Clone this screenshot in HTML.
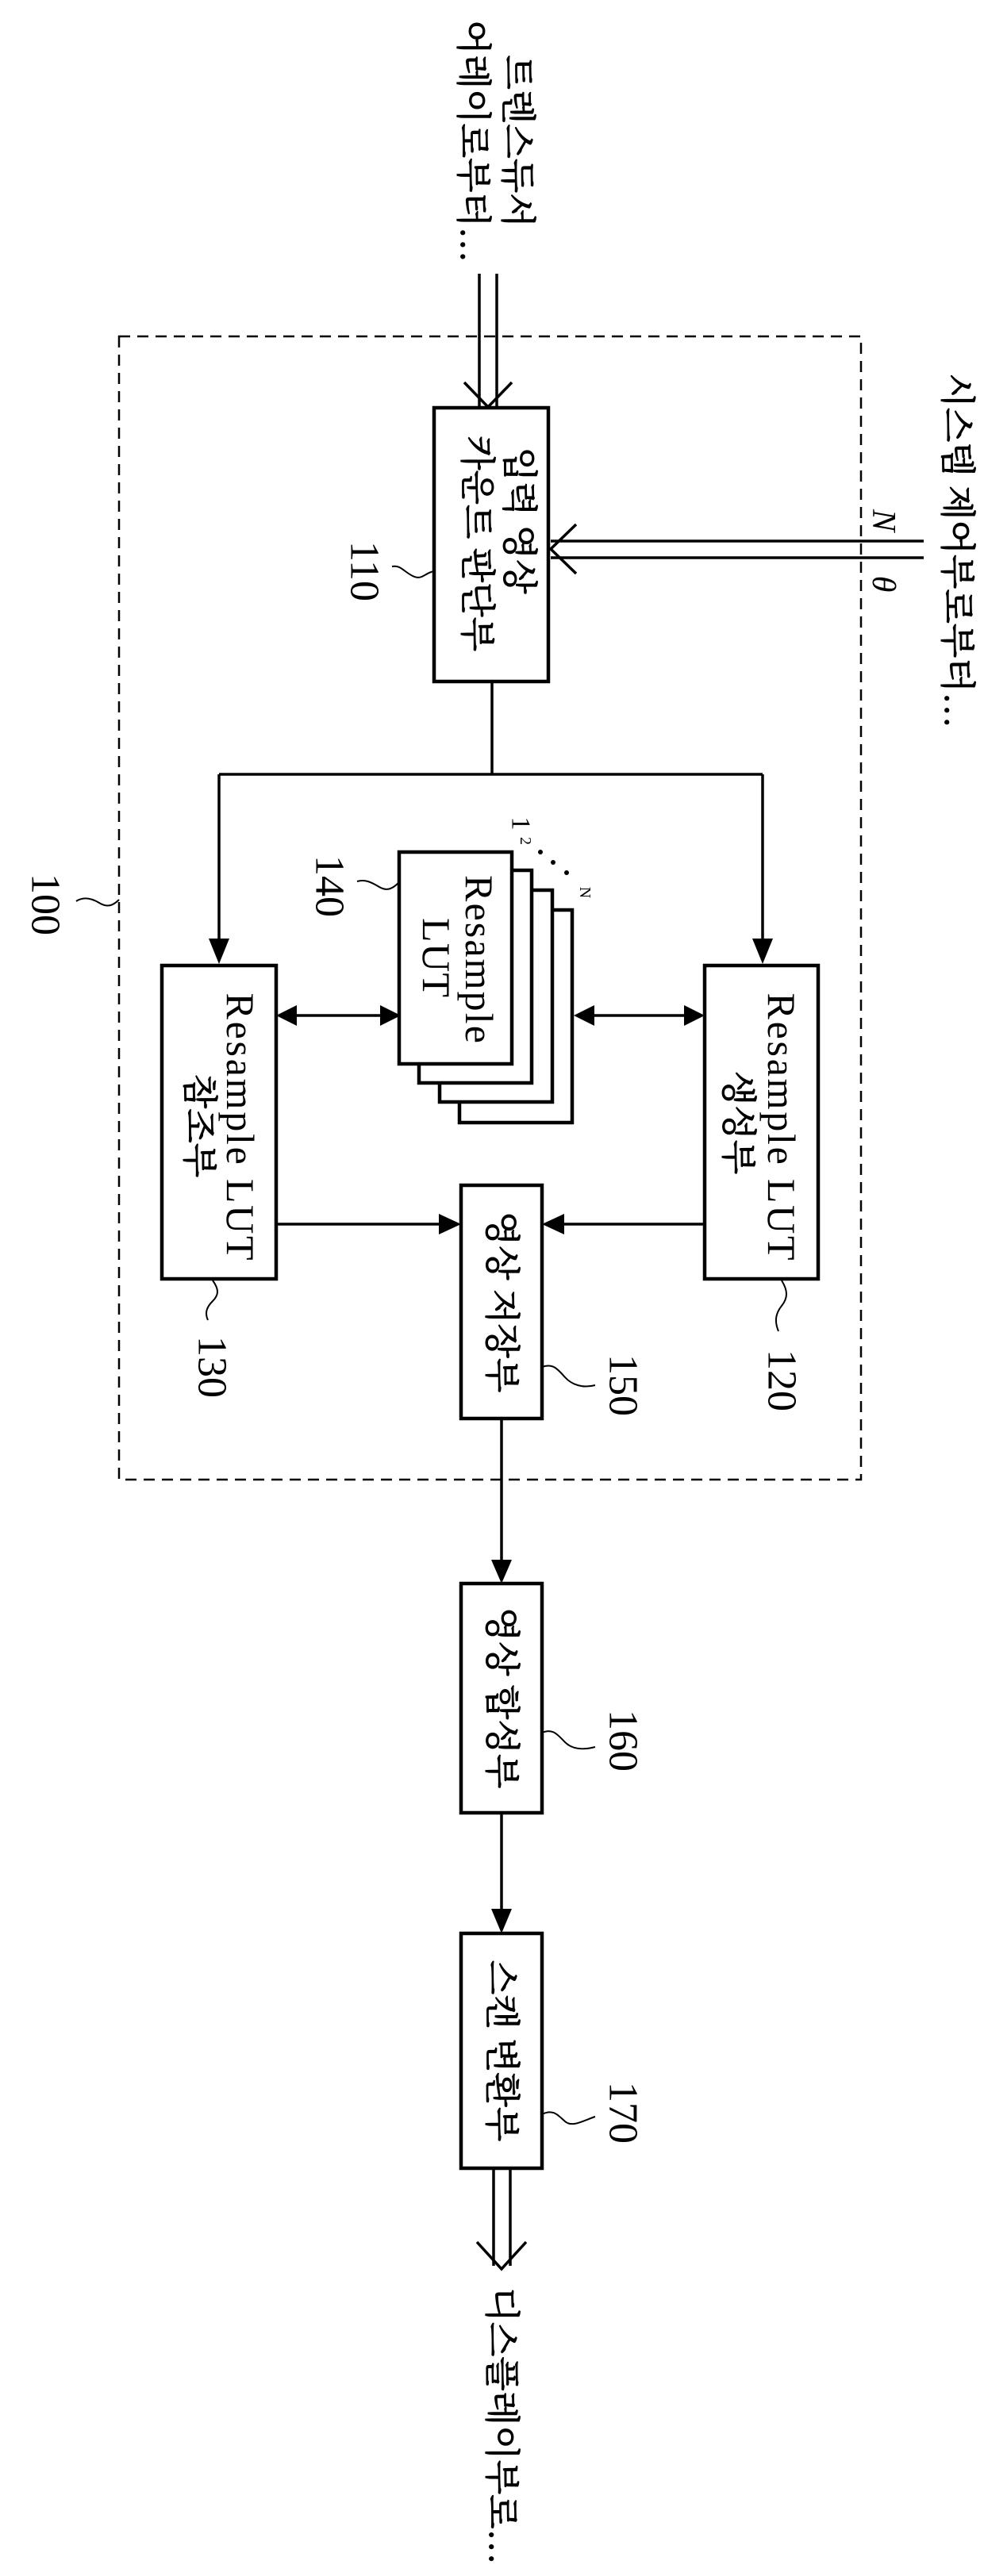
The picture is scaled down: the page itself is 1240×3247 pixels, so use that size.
<!DOCTYPE html>
<html><head><meta charset="utf-8"><style>html,body{margin:0;padding:0;background:#fff}svg{display:block}</style></head>
<body>
<svg xmlns="http://www.w3.org/2000/svg" width="1240" height="3247" viewBox="0 0 1240 3247">
<defs>
<style>
text{font-family:"Liberation Serif","Noto Serif CJK KR","Noto Sans CJK KR",serif;fill:#000}
.k{font-size:45px;stroke:#000;stroke-width:0.9}
.n{font-size:52px}
.r{font-size:50px}
</style>
</defs>
<g fill="none" stroke="#000">
<rect x="150" y="424" width="935" height="1441" stroke-width="2.5" stroke-dasharray="14 9"/>
<rect x="547" y="514" width="144" height="345" stroke-width="4.5"/>
<rect x="204" y="1217" width="144" height="395" stroke-width="4.5"/>
<rect x="888" y="1217" width="143" height="395" stroke-width="4.5"/>
<rect x="579" y="1147" width="142" height="268" stroke-width="4.5" fill="#fff"/>
<rect x="554" y="1122" width="142" height="267" stroke-width="4.5" fill="#fff"/>
<rect x="528" y="1097" width="142" height="268" stroke-width="4.5" fill="#fff"/>
<rect x="503" y="1074" width="142" height="267" stroke-width="4.5" fill="#fff"/>
<rect x="581" y="1494" width="102" height="294" stroke-width="4.5"/>
<rect x="581" y="1996" width="102" height="289" stroke-width="4.5"/>
<rect x="581" y="2437" width="102" height="296" stroke-width="4.5"/>

<line x1="604" y1="345" x2="604" y2="512" stroke-width="3.5"/>
<line x1="626" y1="345" x2="626" y2="512" stroke-width="3.5"/>
<polyline points="585,482 615,513 645,482" stroke-width="3.5"/>
<line x1="1164" y1="682" x2="694" y2="682" stroke-width="3.5"/>
<line x1="1164" y1="703" x2="694" y2="703" stroke-width="3.5"/>
<polyline points="726,661 694,692 726,723" stroke-width="3.5"/>

<line x1="620" y1="859" x2="620" y2="976" stroke-width="3.5"/>
<line x1="276" y1="976" x2="961" y2="976" stroke-width="3.5"/>
<line x1="276" y1="976" x2="276" y2="1186" stroke-width="3.5"/>
<line x1="961" y1="976" x2="961" y2="1186" stroke-width="3.5"/>

<line x1="370" y1="1280" x2="482" y2="1280" stroke-width="3.5"/>
<line x1="744" y1="1280" x2="866" y2="1280" stroke-width="3.5"/>
<line x1="348" y1="1543" x2="556" y2="1543" stroke-width="3.5"/>
<line x1="888" y1="1543" x2="708" y2="1543" stroke-width="3.5"/>
<line x1="632" y1="1788" x2="632" y2="1968" stroke-width="3.5"/>
<line x1="632" y1="2285" x2="632" y2="2408" stroke-width="3.5"/>
<line x1="622" y1="2733" x2="622" y2="2856" stroke-width="3.5"/>
<line x1="643" y1="2733" x2="643" y2="2856" stroke-width="3.5"/>
<polyline points="601,2826 632,2860 663,2826" stroke-width="3.5"/>

<path d="M547,720 C535,722 532,732 520,726 C508,720 505,712 494,714" stroke-width="2"/>
<path d="M503,1112 C495,1120 488,1124 478,1118 C468,1112 460,1108 450,1111" stroke-width="2"/>
<path d="M150,1134 C142,1142 135,1144 125,1138 C115,1132 105,1130 96,1136" stroke-width="2"/>
<path d="M268,1614 C276,1625 276,1632 268,1640 C260,1648 258,1655 262,1664" stroke-width="2"/>
<path d="M985,1614 C993,1627 993,1636 985,1646 C977,1656 976,1666 981,1678" stroke-width="2"/>
<path d="M683,1723 C697,1718 703,1726 712,1736 C721,1746 735,1750 750,1746" stroke-width="2"/>
<path d="M683,2184 C697,2178 703,2187 712,2196 C721,2205 735,2206 750,2202" stroke-width="2"/>
<path d="M683,2665 C697,2658 703,2666 712,2674 C721,2682 735,2673 750,2668" stroke-width="2"/>
</g>
<g fill="#000">
<polygon points="263,1183 289,1183 276,1215"/>
<polygon points="948,1183 974,1183 961,1215"/>
<polygon points="348,1280 374,1267 374,1293"/>
<polygon points="505,1280 479,1267 479,1293"/>
<polygon points="723,1280 749,1267 749,1293"/>
<polygon points="888,1280 862,1267 862,1293"/>
<polygon points="581,1543 553,1530 553,1556"/>
<polygon points="683,1543 711,1530 711,1556"/>
<polygon points="619,1966 645,1966 632,1996"/>
<polygon points="619,2406 645,2406 632,2437"/>
<circle cx="681" cy="1074" r="3"/>
<circle cx="697" cy="1087" r="3"/>
<circle cx="714" cy="1100" r="3"/>
</g>

<g dominant-baseline="central">
<text class="k" transform="translate(652,178) rotate(90)" text-anchor="middle">트렌스듀서</text>
<text class="k" transform="translate(596,178) rotate(90)" text-anchor="middle">어레이로부터…</text>
<text class="k" transform="translate(1206,694) rotate(90)" text-anchor="middle">시스템 제어부로부터…</text>
<text style="font-size:42px;font-style:italic" transform="translate(1113,656) rotate(90)" text-anchor="middle">N</text>
<text style="font-size:42px;font-style:italic" transform="translate(1113,736) rotate(90)" text-anchor="middle">θ</text>

<text class="k" transform="translate(654,656) rotate(90)" text-anchor="middle">입력 영상</text>
<text class="k" transform="translate(601,685) rotate(90)" text-anchor="middle">카운트 판단부</text>

<text class="r" transform="translate(985,1420) rotate(90)" text-anchor="middle" textLength="337">Resample LUT</text>
<text class="k" transform="translate(930,1415) rotate(90)" text-anchor="middle">생성부</text>
<text class="r" transform="translate(303,1420) rotate(90)" text-anchor="middle" textLength="337">Resample LUT</text>
<text class="k" transform="translate(251,1419) rotate(90)" text-anchor="middle">참조부</text>

<text class="r" transform="translate(604,1209) rotate(90)" text-anchor="middle" textLength="212">Resample</text>
<text class="r" transform="translate(550,1207) rotate(90)" text-anchor="middle" textLength="100">LUT</text>

<text class="k" transform="translate(632,1641) rotate(90)" text-anchor="middle">영상 저장부</text>
<text class="k" transform="translate(632,2140) rotate(90)" text-anchor="middle">영상 합성부</text>
<text class="k" transform="translate(632,2585) rotate(90)" text-anchor="middle">스캔 변환부</text>
<text class="k" transform="translate(632,3058) rotate(90)" text-anchor="middle">디스플레이부로…</text>

<text class="n" transform="translate(459,720) rotate(90)" text-anchor="middle">110</text>
<text class="n" transform="translate(415,1117) rotate(90)" text-anchor="middle">140</text>
<text class="n" transform="translate(57,1140) rotate(90)" text-anchor="middle">100</text>
<text class="n" transform="translate(267,1723) rotate(90)" text-anchor="middle">130</text>
<text class="n" transform="translate(985,1740) rotate(90)" text-anchor="middle">120</text>
<text class="n" transform="translate(785,1746) rotate(90)" text-anchor="middle">150</text>
<text class="n" transform="translate(785,2194) rotate(90)" text-anchor="middle">160</text>
<text class="n" transform="translate(785,2663) rotate(90)" text-anchor="middle">170</text>

<text style="font-size:34px" transform="translate(656,1038) rotate(90)" text-anchor="middle">1</text>
<text style="font-size:20px" transform="translate(662,1060) rotate(90)" text-anchor="middle">2</text>
<text style="font-size:20px" transform="translate(737,1125) rotate(90)" text-anchor="middle">N</text>
</g>
</svg>
</body></html>
